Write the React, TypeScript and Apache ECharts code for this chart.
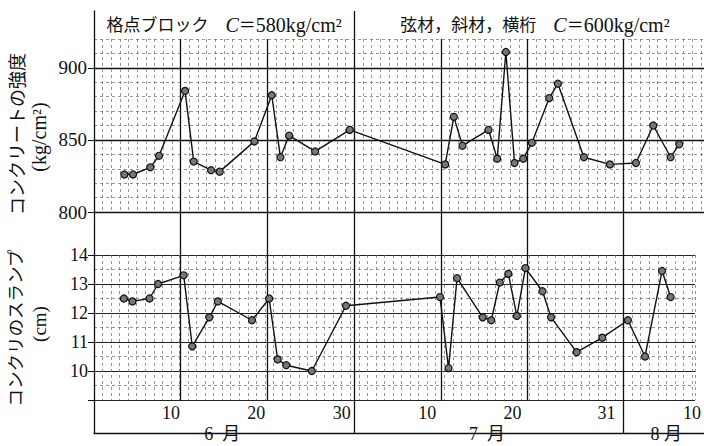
import React, { useEffect, useRef } from 'react';
import * as echarts from 'echarts';

// ---- data ----
const dates = [
  '6/4', '6/5', '6/7', '6/8', '6/11', '6/12', '6/14', '6/15', '6/19', '6/21', '6/22', '6/23', '6/26', '6/30',
  '7/11', '7/12', '7/13', '7/16', '7/17', '7/18', '7/19', '7/20', '7/21', '7/23', '7/24', '7/27', '7/30',
  '8/2', '8/4', '8/6', '8/7',
];
const strength = [
  826, 826, 831, 839, 884, 835, 829, 828, 849, 881, 838, 853, 842, 857,
  833, 866, 846, 857, 837, 911, 834, 837, 848, 879, 889, 838, 833,
  834, 860, 838, 847,
];
const slump = [
  12.5, 12.4, 12.5, 13.0, 13.3, 10.85, 11.85, 12.4, 11.75, 12.5, 10.4, 10.2, 10.0, 12.25,
  12.55, 10.1, 13.2, 11.85, 11.75, 13.05, 13.35, 11.9, 13.55, 12.75, 11.85, 10.65, 11.15,
  11.75, 10.5, 13.45, 12.55,
];
const strengthTicks = [800, 850, 900];
const slumpTicks = [9, 10, 11, 12, 13, 14];
const slumpLabels = [10, 11, 12, 13, 14];
const dayTickDates = ['6/10', '6/20', '6/30', '7/10', '7/20', '7/31', '8/10'];
const monthEndDates = ['6/30', '7/31'];
const monthLabels = ['6\u2002月', '7\u2002月', '8 月'];
const monthLabelDates = ['6/16', '7/17', '8/7'];
const headerTitles = ['格点ブロック', '弦材，斜材，横桁'];
const headerStrengths = ['580kg/cm²', '600kg/cm²'];
const yTitleTop = ['コンクリートの強度', '(kg/cm²)'];
const yTitleBottom = ['コンクリのスランプ', '(cm)'];

const monthOffset: Record<number, number> = { 6: 0, 7: 30, 8: 61 };
const parse = (s: string) => {
  const [m, d] = s.split('/').map(Number);
  return { m, d };
};
const dayStart = (s: string) => {
  const { m, d } = parse(s);
  return monthOffset[m] + d - 1;
};
const dayCenter = (s: string) => dayStart(s) + 0.5;
const dayEnd = (s: string) => dayStart(s) + 1;

// ---- layout ----
const W = 704;
const H = 446;
const LEFT = 94;
const XMAX = 70.35;
const PXD = (W - LEFT) / XMAX;
const FRAME_TOP = 11;
const TOP_PANEL_TOP = 39;
const TOP_PANEL_BOTTOM = 212;
const BOT_PANEL_TOP = 255;
const BOT_PANEL_BOTTOM = 400;
const FRAME_BOTTOM = 433;

const SERIF = '"Liberation Serif","DejaVu Serif",serif';
const JP = '"Liberation Serif","Noto Sans CJK JP",serif';
const INK = '#111';

const isInt = (v: number) => Math.abs(v - Math.round(v)) < 1e-6;

export default function App() {
  const ref = useRef<HTMLDivElement>(null);

  useEffect(() => {
    document.body.style.margin = '0';
    if (!ref.current) return;
    const chart = echarts.init(ref.current, undefined, { renderer: 'svg' });

    const dayLabelMap: Record<number, string> = {};
    dayTickDates.forEach((s) => {
      dayLabelMap[dayStart(s)] = String(parse(s).d);
    });
    const monthLabelMap: Record<number, string> = {};
    monthLabelDates.forEach((s, i) => {
      monthLabelMap[dayStart(s)] = monthLabels[i];
    });
    const decadeLines = dayTickDates
      .filter((s) => !monthEndDates.includes(s))
      .map(dayEnd);
    const monthLines = monthEndDates.map(dayEnd);

    const minorLine = { show: true, lineStyle: { color: '#6a6a6a', width: 0.7, type: [3, 3] } };
    const hiddenX = (gridIndex: number) => ({
      type: 'value', gridIndex, min: 0, max: XMAX, interval: 1, show: false,
    });
    const hiddenY = (gridIndex: number) => ({
      type: 'value', gridIndex, min: 0, max: 1, show: false,
    });
    const gridAt = (top: number, bottom: number) => ({
      left: LEFT, top, width: W - LEFT, height: bottom - top, containLabel: false,
    });
    const mark = (vals: number[]) => ({
      silent: true,
      symbol: ['none', 'none'],
      label: { show: false },
      emphasis: { disabled: true },
      lineStyle: { color: INK, width: 1.3, type: 'solid' },
      data: vals.map((v) => ({ xAxis: v })),
    });
    const dataSeriesStyle = {
      type: 'line',
      symbol: 'circle',
      symbolSize: 7,
      lineStyle: { color: INK, width: 1.4 },
      itemStyle: { color: '#777', borderColor: INK, borderWidth: 1.2 },
      z: 10,
      silent: true,
    };

    const headerCenters = [
      LEFT + (dayEnd('6/30') / 2) * PXD,
      535,
    ];

    const option: any = {
      animation: false,
      grid: [
        gridAt(TOP_PANEL_TOP, TOP_PANEL_BOTTOM),
        gridAt(BOT_PANEL_TOP, BOT_PANEL_BOTTOM),
        gridAt(TOP_PANEL_TOP, BOT_PANEL_BOTTOM),
        gridAt(TOP_PANEL_TOP, FRAME_BOTTOM),
        gridAt(FRAME_TOP, FRAME_BOTTOM),
      ],
      xAxis: [
        {
          type: 'value', gridIndex: 0, min: 0, max: XMAX, interval: 1, position: 'bottom',
          axisLine: { show: false }, axisTick: { show: false }, axisLabel: { show: false },
          splitLine: minorLine,
        },
        {
          type: 'value', gridIndex: 1, min: 0, max: XMAX, interval: 1, position: 'bottom',
          axisLine: { show: false }, axisTick: { show: false },
          axisLabel: {
            show: true, margin: 4, fontSize: 18, fontFamily: SERIF, color: INK,
            formatter: (v: number) => (isInt(v) ? dayLabelMap[Math.round(v)] || '' : ''),
          },
          splitLine: minorLine,
        },
        {
          type: 'value', gridIndex: 1, min: 0, max: XMAX, interval: 1, position: 'bottom', offset: 23,
          axisLine: { show: false }, axisTick: { show: false }, splitLine: { show: false },
          axisLabel: {
            show: true, margin: 2, fontSize: 18, fontFamily: JP, color: INK,
            formatter: (v: number) => (isInt(v) ? monthLabelMap[Math.round(v)] || '' : ''),
          },
        },
        hiddenX(2),
        hiddenX(3),
        {
          type: 'value', gridIndex: 4, min: 0, max: XMAX, position: 'top',
          axisLine: { show: true, lineStyle: { color: INK, width: 1.3 } },
          axisTick: { show: false }, axisLabel: { show: false }, splitLine: { show: false },
        },
      ],
      yAxis: [
        {
          type: 'value', gridIndex: 0, min: 800, max: 920, interval: 10, position: 'left',
          axisLine: { show: false }, axisTick: { show: false }, axisLabel: { show: false },
          splitLine: minorLine,
        },
        {
          type: 'value', gridIndex: 0, min: 800, max: 920, interval: 50, position: 'left',
          axisLine: { show: false },
          axisTick: { show: true, length: 6, lineStyle: { color: INK }, customValues: strengthTicks },
          axisLabel: {
            show: true, margin: 7, fontSize: 19, fontFamily: SERIF, color: INK,
            customValues: strengthTicks,
            formatter: (v: number) => (strengthTicks.includes(v) ? String(v) : ''),
          },
          splitLine: { show: true, lineStyle: { color: INK, width: 1.3 } },
        },
        {
          type: 'value', gridIndex: 1, min: 9, max: 14, interval: 1, position: 'left',
          axisLine: { show: false },
          axisTick: { show: true, length: 6, lineStyle: { color: INK }, customValues: slumpTicks },
          axisLabel: {
            show: true, margin: 6, fontSize: 18, fontFamily: SERIF, color: INK,
            customValues: slumpLabels,
            formatter: (v: number) => (slumpLabels.includes(v) ? String(v) : ''),
          },
          splitLine: { show: true, lineStyle: { color: '#222', width: 1.1 } },
          minorTick: { show: false, splitNumber: 2 },
          minorSplitLine: minorLine,
        },
        hiddenY(2),
        hiddenY(3),
        {
          type: 'value', gridIndex: 4, min: 0, max: 1, position: 'left',
          axisLine: { show: true, lineStyle: { color: INK, width: 1.3 } },
          axisTick: { show: false }, axisLabel: { show: false }, splitLine: { show: false },
        },
      ],
      series: [
        {
          ...dataSeriesStyle,
          name: 'strength',
          xAxisIndex: 0,
          yAxisIndex: 0,
          data: dates.map((s, i) => [dayCenter(s), strength[i]]),
        },
        {
          ...dataSeriesStyle,
          name: 'slump',
          xAxisIndex: 1,
          yAxisIndex: 2,
          data: dates.map((s, i) => [dayCenter(s), slump[i]]),
        },
        { type: 'line', xAxisIndex: 3, yAxisIndex: 3, data: [], silent: true, markLine: mark(decadeLines) },
        { type: 'line', xAxisIndex: 4, yAxisIndex: 4, data: [], silent: true, markLine: mark(monthLines.filter((v) => v !== dayEnd('6/30'))) },
        { type: 'line', xAxisIndex: 5, yAxisIndex: 5, data: [], silent: true, markLine: mark([dayEnd('6/30')]) },
      ],
      graphic: [
        ...headerTitles.map((t, i) => ({
          type: 'text',
          x: headerCenters[i],
          y: (FRAME_TOP + TOP_PANEL_TOP) / 2,
          silent: true,
          style: {
            text: `${t}　{i|C}＝{n|${headerStrengths[i]}}`,
            fontSize: 17,
            fontFamily: JP,
            fill: INK,
            align: 'center',
            verticalAlign: 'middle',
            rich: {
              i: { fontStyle: 'italic', fontSize: 20, fontFamily: SERIF, fill: INK },
              n: { fontSize: 20, fontFamily: SERIF, fill: INK },
            },
          },
        })),
        ...yTitleTop.map((t, i) => ({
          type: 'text',
          x: i === 0 ? 18 : 39,
          y: i === 0 ? 134 : 137,
          rotation: Math.PI / 2,
          silent: true,
          style: { text: t, fontSize: i === 0 ? 18 : 20, fontFamily: JP, fill: INK, align: 'center', verticalAlign: 'middle' },
        })),
        ...yTitleBottom.map((t, i) => ({
          type: 'text',
          x: i === 0 ? 16 : 39,
          y: i === 0 ? 328 : 324,
          rotation: Math.PI / 2,
          silent: true,
          style: { text: t, fontSize: i === 0 ? 17.5 : 19, fontFamily: JP, fill: INK, align: 'center', verticalAlign: 'middle' },
        })),
      ],
    };

    chart.setOption(option);
    return () => chart.dispose();
  }, []);

  return <div ref={ref} style={{ width: W, height: H }} />;
}
